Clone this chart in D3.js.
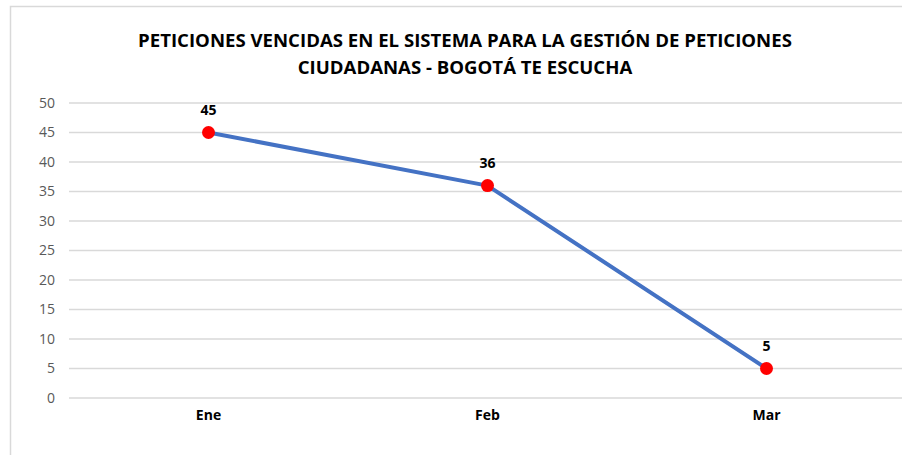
<!DOCTYPE html>
<html>
<head>
<meta charset="utf-8">
<script src="https://cdn.jsdelivr.net/npm/d3@7"></script>
<style>
  body { margin: 0; background: #fff; }
  text { font-family: "Open Sans", "Liberation Sans", sans-serif; }
</style>
</head>
<body>
<div id="chart"></div>
<script>
// chart data
const MONTHS = ["Ene", "Feb", "Mar"];
const VALUES = [45, 36, 5];
const Y_TICKS = [0, 5, 10, 15, 20, 25, 30, 35, 40, 45, 50];
const TITLE_LINES = ["PETICIONES VENCIDAS EN EL SISTEMA PARA LA GESTIÓN DE PETICIONES",
                     "CIUDADANAS - BOGOTÁ TE ESCUCHA"];

// frame set up
const FRAME_WIDTH = 902;
const FRAME_HEIGHT = 455;
const MARGINS = {left: 69, right: -4, top: 103, bottom: 57};

const FRAME = d3.select("#chart")
  .append("svg")
  .attr("width", FRAME_WIDTH)
  .attr("height", FRAME_HEIGHT);

// outer chart border
FRAME.append("rect")
  .attr("x", 10.5).attr("y", 6.5)
  .attr("width", 900).attr("height", 470)
  .attr("fill", "#fff")
  .attr("stroke", "#d9d9d9")
  .attr("stroke-width", 1.5);

// title
FRAME.selectAll(".title")
  .data(TITLE_LINES)
  .enter()
  .append("text")
  .attr("x", 465)
  .attr("y", (d, i) => 47 + i * 27)
  .attr("text-anchor", "middle")
  .attr("font-size", "18.6px")
  .attr("font-weight", "bold")
  .attr("fill", "#000")
  .text(d => d);

const X_SCALE = d3.scaleBand()
  .domain(MONTHS)
  .range([MARGINS.left, FRAME_WIDTH - MARGINS.right])
  .padding(0);

const Y_SCALE = d3.scaleLinear()
  .domain([0, 50])
  .range([FRAME_HEIGHT - MARGINS.bottom, MARGINS.top]);

// gridlines
FRAME.append("g")
  .selectAll("line")
  .data(Y_TICKS)
  .enter()
  .append("line")
  .attr("x1", MARGINS.left)
  .attr("x2", FRAME_WIDTH)
  .attr("y1", d => Y_SCALE(d))
  .attr("y2", d => Y_SCALE(d))
  .attr("stroke", "#d9d9d9")
  .attr("stroke-width", 1.3);

// y axis labels
const yAxis = FRAME.append("g")
  .attr("transform", "translate(" + (MARGINS.left - 14) + ",0)")
  .call(d3.axisLeft(Y_SCALE).tickValues(Y_TICKS).tickSize(0).tickPadding(0));
yAxis.select(".domain").remove();
yAxis.selectAll("text")
  .attr("font-size", "14px")
  .attr("fill", "#595959")
  .attr("font-family", "'Open Sans', sans-serif");

// x axis labels
const xAxis = FRAME.append("g")
  .attr("transform", "translate(0," + (FRAME_HEIGHT - MARGINS.bottom + 12) + ")")
  .call(d3.axisBottom(X_SCALE).tickSize(0).tickPadding(0));
xAxis.select(".domain").remove();
xAxis.selectAll("text")
  .attr("font-size", "14px")
  .attr("font-weight", "bold")
  .attr("fill", "#000")
  .attr("font-family", "'Open Sans', sans-serif");

const points = MONTHS.map((m, i) => ({month: m, value: VALUES[i]}));
const cx = d => X_SCALE(d.month) + X_SCALE.bandwidth() / 2;

// line
FRAME.append("path")
  .datum(points)
  .attr("fill", "none")
  .attr("stroke", "#4472c4")
  .attr("stroke-width", 4)
  .attr("stroke-linejoin", "round")
  .attr("d", d3.line().x(cx).y(d => Y_SCALE(d.value)));

// markers
FRAME.selectAll(".dot")
  .data(points)
  .enter()
  .append("circle")
  .attr("cx", cx)
  .attr("cy", d => Y_SCALE(d.value))
  .attr("r", 6.5)
  .attr("fill", "#ff0000");

// data labels
FRAME.selectAll(".lbl")
  .data(points)
  .enter()
  .append("text")
  .attr("x", cx)
  .attr("y", d => Y_SCALE(d.value) - 18)
  .attr("text-anchor", "middle")
  .attr("font-size", "14px")
  .attr("font-weight", "bold")
  .attr("fill", "#000")
  .text(d => d.value);
</script>
</body>
</html>
